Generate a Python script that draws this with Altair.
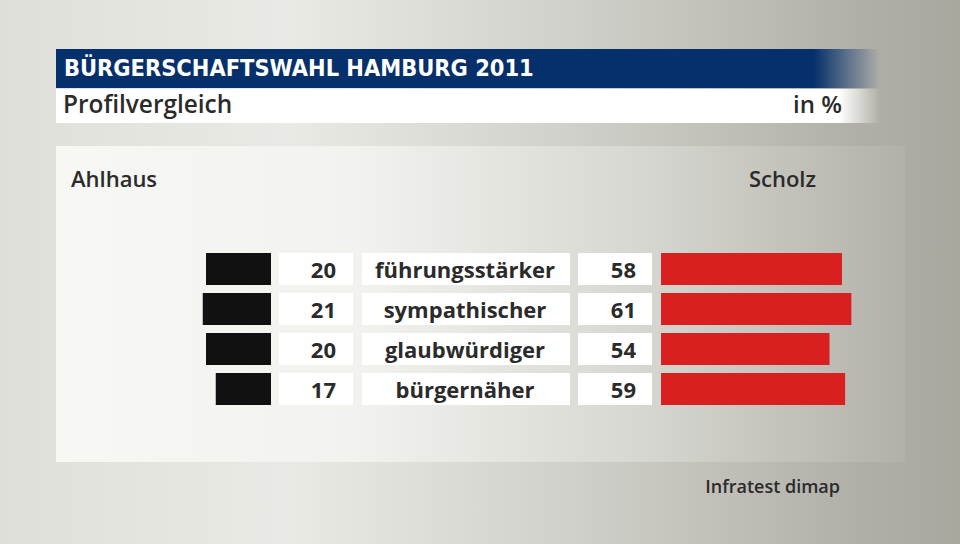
import altair as alt
import pandas as pd

items = ["führungsstärker", "sympathischer", "glaubwürdiger", "bürgernäher"]
ahlhaus = [20, 21, 20, 17]
scholz = [58, 61, 54, 59]

df = pd.DataFrame({"item": items, "ahlhaus": ahlhaus, "scholz": scholz, "row": list(range(len(items)))})

FONT = "Open Sans"
W, H = 960, 544

def grad(stops, x2=1, y2=0):
    return alt.LinearGradient(
        gradient="linear",
        stops=[alt.GradientStop(color=c, offset=o) for o, c in stops],
        x1=0, y1=0, x2=x2, y2=y2,
    )

base_df = pd.DataFrame({"k": [0]})

bg = alt.Chart(base_df).mark_rect(
    fill=grad([(0, "#dedfd9"), (0.3, "#e9eae5"), (0.6, "#d0d0ca"), (0.9, "#b0afa7"), (1, "#a9a89f")])
).encode(x=alt.value(0), x2=alt.value(W), y=alt.value(0), y2=alt.value(H))

panel = alt.Chart(base_df).mark_rect(
    fill=grad([(0, "#f7f8f4"), (0.35, "#f2f3ef"), (0.7, "#d6d6d0"), (1, "#b2b1a9")])
).encode(x=alt.value(56), x2=alt.value(905), y=alt.value(146), y2=alt.value(462))

titlebar = alt.Chart(base_df).mark_rect(
    fill=grad([(0, "#06306c"), (0.92, "#06306c"), (1, "rgba(6,48,108,0)")])
).encode(x=alt.value(56), x2=alt.value(880), y=alt.value(49), y2=alt.value(88))

subbar = alt.Chart(base_df).mark_rect(
    fill=grad([(0, "#ffffff"), (0.95, "#ffffff"), (1, "rgba(255,255,255,0)")])
).encode(x=alt.value(56), x2=alt.value(880), y=alt.value(89), y2=alt.value(123))

def label(text, x, y, size, color="#2b2b2b", align="left", weight="bold", font=FONT):
    return alt.Chart(base_df).mark_text(
        text=text, align=align, baseline="middle", fontSize=size, fontWeight=weight,
        font=font, color=color
    ).encode(x=alt.value(x), y=alt.value(y))

title = label("BÜRGERSCHAFTSWAHL HAMBURG 2011", 64, 69, 23.4, color="white",
              font="DejaVu Sans Condensed")
subtitle = label("Profilvergleich", 63, 106, 24.4, weight=600)
unit = label("in %", 842, 106, 24, align="right", weight=600)
left_name = label("Ahlhaus", 71, 180, 22, weight=600)
right_name = label("Scholz", 816, 180, 22, align="right", weight=600)
source = label("Infratest dimap", 840, 488, 18, align="right", weight=600)

data = alt.Chart(df).transform_calculate(
    top="datum.row - 0.4", bot="datum.row + 0.4", zero="0"
)

ysc = alt.Scale(domain=[0, 3], range=[269, 389])

black = data.mark_rect(color="#111111").encode(
    x=alt.X("ahlhaus:Q", scale=alt.Scale(domain=[0, 20], range=[271, 206], nice=False, zero=False), axis=None),
    x2="zero:Q",
    y=alt.Y("top:Q", scale=ysc, axis=None),
    y2="bot:Q",
)

red = data.mark_rect(color="#d82020").encode(
    x=alt.X("scholz:Q", scale=alt.Scale(domain=[0, 58], range=[661, 842], nice=False, zero=False), axis=None),
    x2="zero:Q",
    y=alt.Y("top:Q", scale=ysc, axis=None),
    y2="bot:Q",
)

def box(x0, x1):
    return data.mark_rect(color="white").encode(
        x=alt.value(x0), x2=alt.value(x1),
        y=alt.Y("top:Q", scale=ysc, axis=None), y2="bot:Q",
    )

boxes = [box(279, 353), box(362, 570), box(578, 652)]

def txt(field, x, align):
    return data.mark_text(
        align=align, baseline="middle", fontSize=22, fontWeight="bold", font=FONT,
        color="#2b2b2b", dy=2
    ).encode(x=alt.value(x), y=alt.Y("row:Q", scale=ysc, axis=None), text=field)

texts = [txt("ahlhaus:Q", 336, "right"), txt("item:N", 465, "center"), txt("scholz:Q", 636, "right")]

chart = alt.layer(
    bg, panel, titlebar, subbar, title, subtitle, unit, left_name, right_name, source,
    black, red, *boxes, *texts
).resolve_scale(x="independent").properties(
    width=W, height=H, padding=0, autosize=alt.AutoSizeParams(type="none")
).configure_view(stroke=None)

chart.save("out.html", embed_options={"renderer": "svg", "actions": False})
